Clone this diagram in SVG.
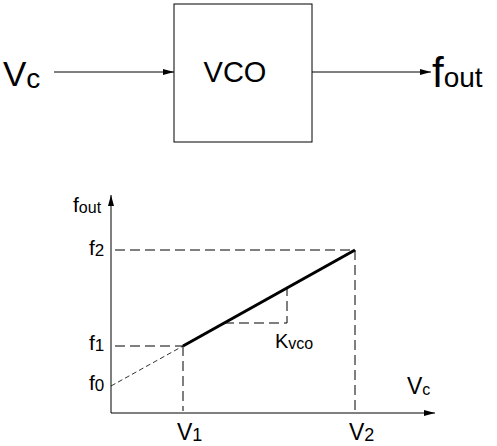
<svg xmlns="http://www.w3.org/2000/svg" width="497" height="446" viewBox="0 0 497 446">
<style>
text{font-family:"Liberation Sans",Arial,sans-serif;fill:#000}
.ln{stroke:#000;stroke-width:1;fill:none}
.dash{stroke:#000;stroke-width:1;fill:none;stroke-dasharray:10 5}
.thin{stroke:#000;stroke-width:0.8;fill:none;stroke-dasharray:5 3}
</style>
<defs>
<marker id="ah" markerWidth="11" markerHeight="6" refX="11" refY="3" orient="auto" markerUnits="userSpaceOnUse">
<path d="M0,0 L11,3 L0,6 Z" fill="#000"/>
</marker>
</defs>
<g id="vco">
<rect x="174" y="4" width="138" height="138" fill="#fff" stroke="#000" stroke-width="1"/>
<text x="235" y="82" font-size="29" text-anchor="middle">VCO</text>
</g>
<g id="vc-in">
<text x="3" y="86" font-size="35">V<tspan font-size="28" dy="2">c</tspan></text>
</g>
<g id="fout-out">
<text x="432" y="87" font-size="42">f<tspan font-size="28">out</tspan></text>
</g>
<g id="connectors">
<line class="ln" x1="54" y1="72" x2="174" y2="72" marker-end="url(#ah)"/>
<line class="ln" x1="312" y1="72" x2="431" y2="72" marker-end="url(#ah)"/>
</g>
<g id="graph">
<line class="ln" x1="111" y1="413" x2="111" y2="195" marker-end="url(#ah)"/>
<line class="ln" x1="111" y1="413" x2="435" y2="413" marker-end="url(#ah)"/>
<line class="dash" x1="115" y1="250" x2="355" y2="250"/>
<line class="dash" x1="355" y1="250" x2="355" y2="411"/>
<line class="dash" x1="115" y1="346" x2="183" y2="346"/>
<line class="dash" x1="183" y1="346" x2="183" y2="411"/>
<line class="thin" x1="111" y1="386" x2="183" y2="346"/>
<line stroke="#000" stroke-width="3" x1="183" y1="346" x2="355" y2="250"/>
<polyline class="dash" points="224,323 287,323 287,289"/>
<text x="73" y="212" font-size="21">f<tspan font-size="16" dy="1">out</tspan></text>
<text x="89" y="255" font-size="21">f<tspan font-size="17" dy="1">2</tspan></text>
<text x="89" y="350" font-size="21">f<tspan font-size="17" dy="1">1</tspan></text>
<text x="89" y="390" font-size="21">f<tspan font-size="17" dy="1">0</tspan></text>
<text x="275" y="348" font-size="20">K<tspan font-size="16" dy="1">vco</tspan></text>
<text x="177" y="440" font-size="23">V<tspan font-size="18" dy="1">1</tspan></text>
<text x="349" y="440" font-size="23">V<tspan font-size="18" dy="1">2</tspan></text>
<text x="407" y="394" font-size="23">V<tspan font-size="16" dy="1">c</tspan></text>
</g>
</svg>
